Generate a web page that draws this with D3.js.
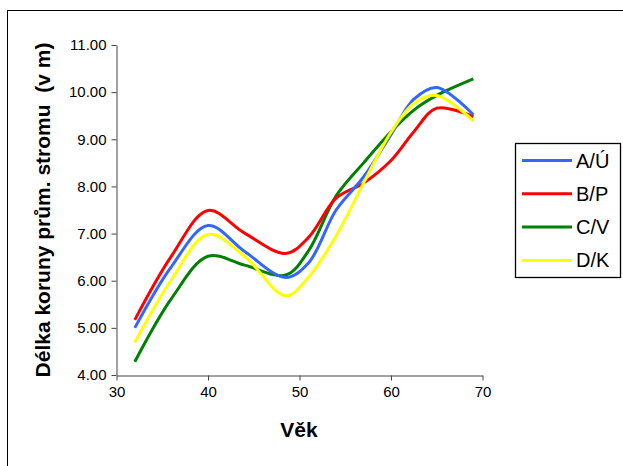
<!DOCTYPE html>
<html>
<head>
<meta charset="utf-8">
<script src="https://cdn.jsdelivr.net/npm/d3@7"></script>
<style>
  body { margin: 0; background: #fff; }
  text { font-family: "Liberation Sans", Arial, sans-serif; }
</style>
</head>
<body>
<div class="chart"></div>
<script>
// ages (x) and the four series
const ages   = [32, 36, 40, 44, 48.5, 51, 54, 57, 60, 62.5, 65, 69];
const serA   = [5.00, 6.30, 7.17, 6.62, 6.07, 6.38, 7.50, 8.20, 9.10, 9.85, 10.10, 9.52];
const serB   = [5.17, 6.52, 7.49, 7.01, 6.58, 6.92, 7.75, 8.07, 8.55, 9.16, 9.66, 9.48];
const serC   = [4.28, 5.62, 6.52, 6.33, 6.12, 6.64, 7.80, 8.50, 9.16, 9.62, 9.93, 10.28];
const serD   = [4.69, 6.02, 6.98, 6.52, 5.68, 6.08, 6.95, 8.07, 9.15, 9.76, 9.93, 9.39];
const names  = ["A/Ú", "B/P", "C/V", "D/K"];
const colors = ["#3366ff", "#ff0000", "#008000", "#ffff00"];
const yTicks = [4, 5, 6, 7, 8, 9, 10, 11];
const xTicks = [30, 40, 50, 60, 70];

const W = 623, H = 466;

const svg = d3.select(".chart")
  .append("svg")
    .attr("width", W)
    .attr("height", H);

// outer chart frame (runs off the right/bottom edge)
svg.append("rect")
  .attr("x", 7.5).attr("y", 10.5)
  .attr("width", 800).attr("height", 600)
  .attr("fill", "none")
  .attr("stroke", "#000");

const x = d3.scaleLinear().domain([30, 70]).range([116.5, 482.5]);
const y = d3.scaleLinear().domain([4, 11]).range([375, 45]);

// Y axis
const gy = svg.append("g")
  .attr("transform", "translate(116.5,0)")
  .call(d3.axisLeft(y).tickValues(yTicks).tickFormat(d3.format(".2f"))
        .tickSize(5).tickSizeOuter(0).tickPadding(5));
gy.selectAll("text").style("font-size", "15px").attr("fill", "#000");

// X axis
const gx = svg.append("g")
  .attr("transform", "translate(0,375.5)")
  .call(d3.axisBottom(x).tickValues(xTicks)
        .tickSize(5).tickSizeOuter(0).tickPadding(6));
gx.selectAll("text").style("font-size", "15px").attr("fill", "#000");

svg.selectAll(".domain, .tick line").attr("stroke", "#444");

// axis titles
svg.append("text")
  .attr("transform", "translate(50,210) rotate(-90)")
  .attr("text-anchor", "middle")
  .style("font-size", "21px")
  .style("font-weight", "bold")
  .style("white-space", "pre")
  .text("Délka koruny prům. stromu  (v m)");

svg.append("text")
  .attr("x", 299)
  .attr("y", 437)
  .attr("text-anchor", "middle")
  .style("font-size", "21px")
  .style("font-weight", "bold")
  .text("Věk");

// lines
const series = [serA, serB, serC, serD];
const line = d3.line()
  .x((d, i) => x(ages[i]))
  .y(d => y(d))
  .curve(d3.curveCatmullRom.alpha(0.5));

// draw order so yellow sits on top like the original
const order = [2, 1, 0, 3];
order.forEach(k => {
  svg.append("path")
    .datum(series[k])
    .attr("d", line)
    .attr("fill", "none")
    .attr("stroke", colors[k])
    .attr("stroke-width", 3)
    .attr("stroke-linejoin", "round");
});

// legend
const lg = svg.append("g");
lg.append("rect")
  .attr("x", 515.5).attr("y", 143.5)
  .attr("width", 105).attr("height", 134)
  .attr("fill", "#fff")
  .attr("stroke", "#000")
  .attr("stroke-width", 1.3);

names.forEach((n, i) => {
  const yy = 160.5 + i * 33.3;
  lg.append("line")
    .attr("x1", 522).attr("x2", 572)
    .attr("y1", yy).attr("y2", yy)
    .attr("stroke", colors[i])
    .attr("stroke-width", 3);
  lg.append("text")
    .attr("x", 576)
    .attr("y", yy + 7)
    .style("font-size", "20px")
    .text(n);
});
</script>
</body>
</html>
